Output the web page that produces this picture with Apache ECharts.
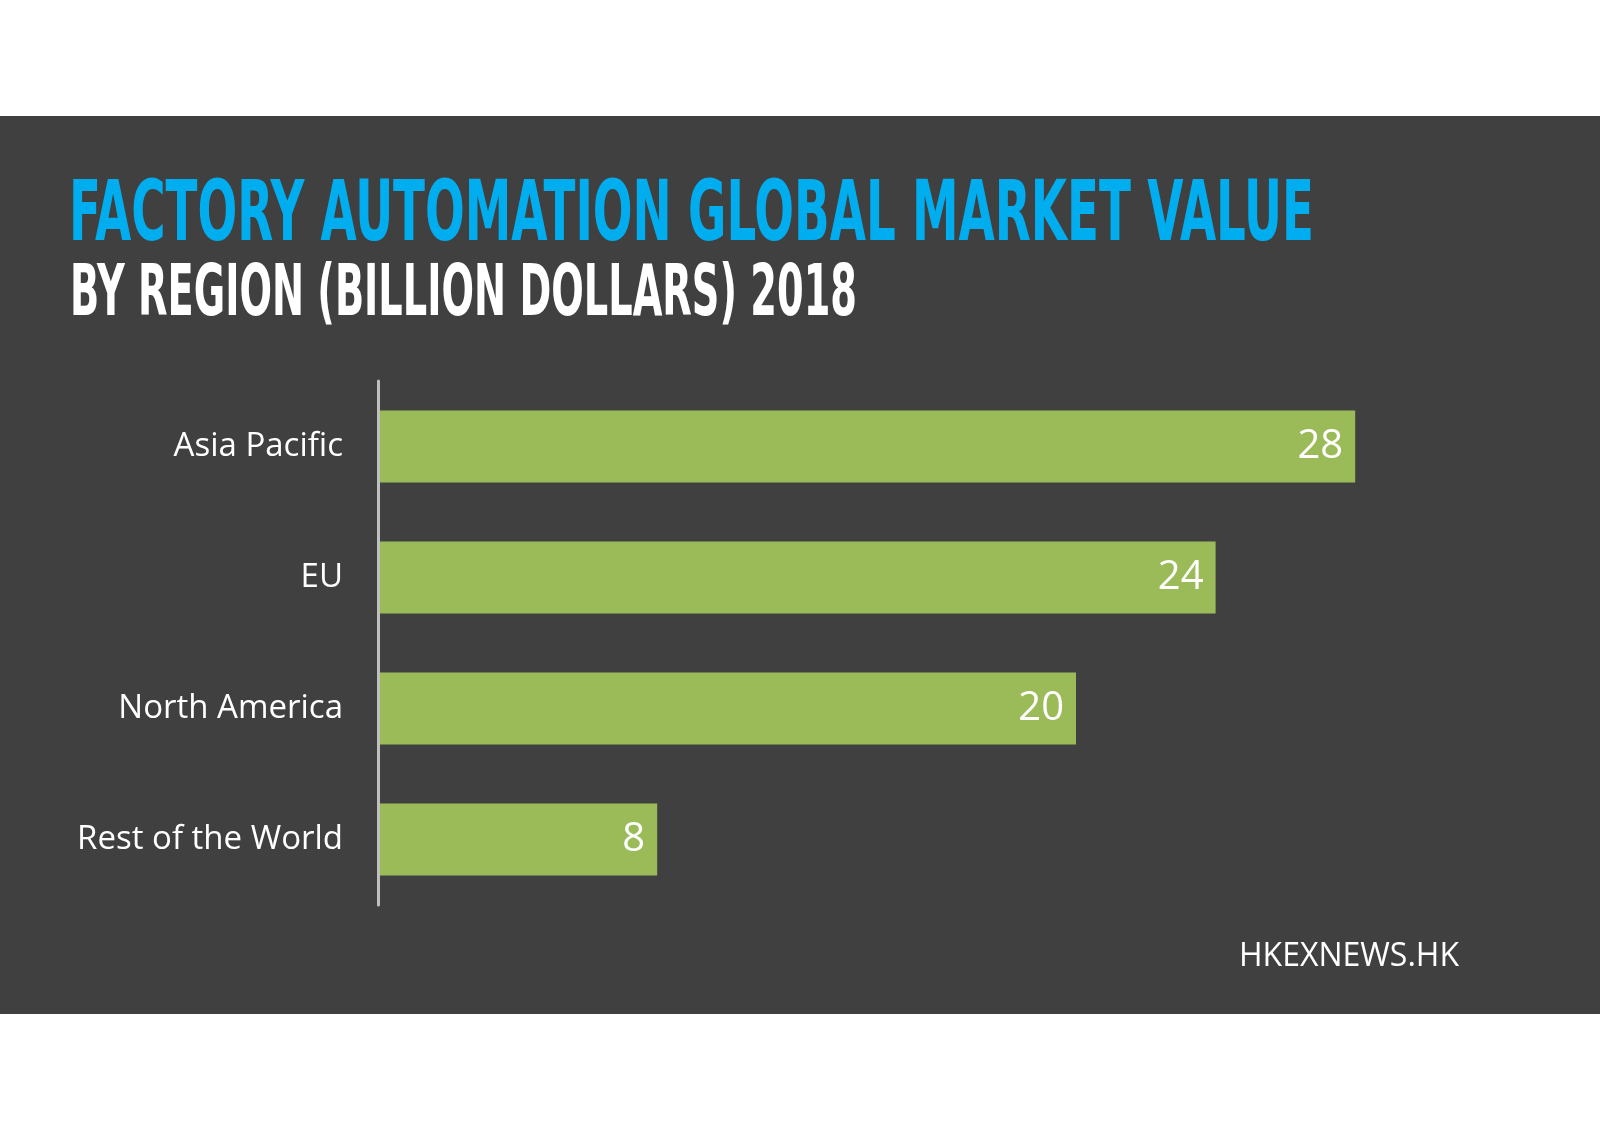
<!DOCTYPE html>
<html>
<head>
<meta charset="utf-8">
<script src="https://cdn.jsdelivr.net/npm/echarts@6/dist/echarts.min.js"></script>
<style>
html,body{margin:0;padding:0;background:#fff;}
#chart{width:1600px;height:1131px;}
</style>
</head>
<body>
<div id="chart"></div>
<script>
const categories = ['Asia Pacific', 'EU', 'North America', 'Rest of the World'];
const values = [28, 24, 20, 8];
const titleText = 'FACTORY AUTOMATION GLOBAL MARKET VALUE';
const subtitleText = 'BY REGION (BILLION DOLLARS) 2018';
const sourceText = 'HKEXNEWS.HK';

const condFont = "'DejaVu Sans Condensed', 'Liberation Sans', sans-serif";
function measure(text, font) {
  const c = document.createElement('canvas').getContext('2d');
  c.font = font;
  return c.measureText(text).width;
}
const titleFont = 'bold 84px ' + condFont;
const subFont = 'bold 71px ' + condFont;
const titleScale = 1245 / measure(titleText, titleFont);
const subScale = 787 / measure(subtitleText, subFont);

const chart = echarts.init(document.getElementById('chart'), null, {renderer: 'canvas'});
chart.setOption({
  backgroundColor: '#ffffff',
  animation: false,
  graphic: [
    {type: 'rect', z: -10, shape: {x: 0, y: 116, width: 1600, height: 898}, style: {fill: '#404040'}},
    {type: 'text', x: 69, y: 218, scaleX: titleScale, scaleY: 1,
      style: {text: titleText, font: titleFont, fill: '#00aeef', textAlign: 'left', textVerticalAlign: 'middle'}},
    {type: 'text', x: 70, y: 297, scaleX: subScale, scaleY: 1,
      style: {text: subtitleText, font: subFont, fill: '#ffffff', textAlign: 'left', textVerticalAlign: 'middle'}},
    {type: 'text', x: 1459, y: 957,
      style: {text: sourceText, font: "32px 'Open Sans', sans-serif", fill: '#ffffff', textAlign: 'right', textVerticalAlign: 'middle'}}
  ],
  grid: {left: 378, top: 381, width: 1047, height: 524, containLabel: false},
  xAxis: {type: 'value', min: 0, max: 30, show: false},
  yAxis: {
    type: 'category', data: categories, inverse: true, z: 5,
    axisLine: {show: true, lineStyle: {color: '#bfbfbf', width: 3}},
    axisTick: {show: false},
    axisLabel: {color: '#ffffff', fontSize: 33, fontFamily: "'Open Sans', sans-serif", margin: 35}
  },
  series: [{
    type: 'bar', data: values, barWidth: 72,
    itemStyle: {color: '#9bbb59'},
    label: {show: true, position: 'insideRight', distance: 12, color: '#ffffff', fontSize: 40, fontFamily: "'Open Sans', sans-serif"}
  }]
});
</script>
</body>
</html>
